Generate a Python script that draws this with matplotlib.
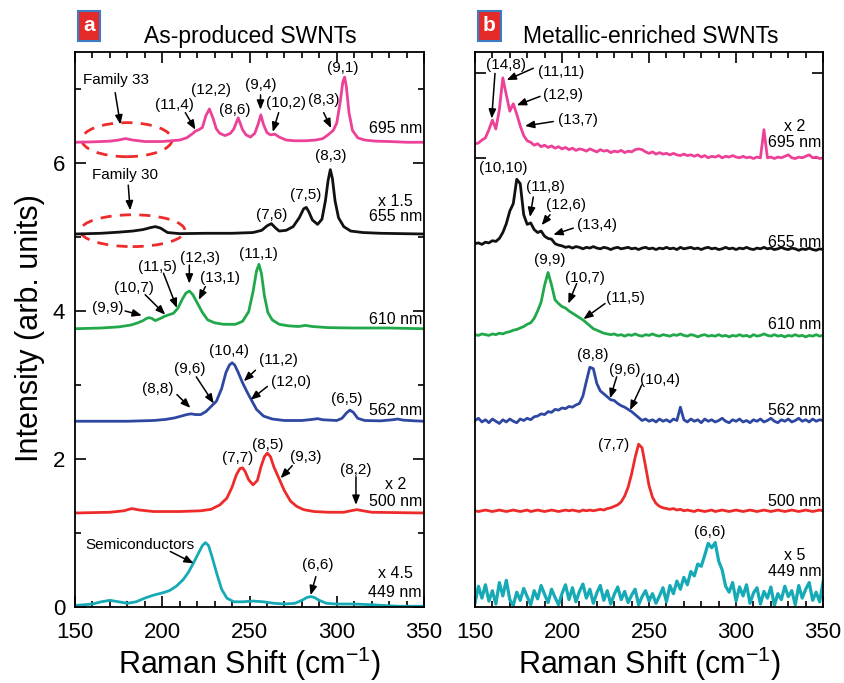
import numpy as np
import matplotlib
matplotlib.use('Agg')
import matplotlib.pyplot as plt
from matplotlib.patches import Ellipse
from matplotlib.ticker import MultipleLocator

plt.rcParams['font.family'] = ['Liberation Sans', 'DejaVu Sans']
plt.rcParams['mathtext.default'] = 'regular'

# ---- panel a: as-produced SWNTs (intensity above each baseline) ----
a_offsets = [6.28, 5.04, 3.76, 2.51, 1.27, 0.0]
a_lasers = ['695', '655', '610', '562', '500', '449']

a695_x = [150, 160, 170, 175, 179, 183, 190, 200, 210, 214,
          217, 219, 221, 223, 225, 227, 229, 231, 233, 236,
          239, 241, 243.5, 246, 248, 250.5, 253, 255, 256.5, 258,
          260, 262, 264.5, 267, 271, 276, 282, 288, 292, 295,
          298, 300, 302, 303.5, 304.5, 305.5, 307, 309, 312, 316,
          322, 330, 340, 350]
a695_y = [0, 0.005, 0.015, 0.03, 0.05, 0.03, 0.01, 0.01, 0.03, 0.06,
          0.11, 0.15, 0.17, 0.20, 0.36, 0.45, 0.33, 0.18, 0.12, 0.09,
          0.12, 0.18, 0.33, 0.17, 0.10, 0.07, 0.12, 0.25, 0.37, 0.24,
          0.13, 0.10, 0.11, 0.07, 0.03, 0.02, 0.02, 0.03, 0.05, 0.10,
          0.16, 0.26, 0.55, 0.82, 0.88, 0.75, 0.40, 0.16, 0.06, 0.03,
          0.015, 0.01, 0.0, 0.0]

a655_x = [150, 165, 175, 183, 189, 193, 196, 199, 203, 210,
          225, 240, 252, 257, 260, 262.5, 265, 267, 271, 275,
          278.5, 281, 282.5, 284, 286, 289, 291.5, 293.5, 295, 296.3,
          297.5, 299, 301, 304, 308, 315, 325, 350]
a655_y = [0.0, 0.01, 0.025, 0.04, 0.06, 0.085, 0.10, 0.08, 0.02, 0.005,
          0.01, 0.01, 0.02, 0.05, 0.11, 0.14, 0.08, 0.04, 0.05, 0.10,
          0.22, 0.34, 0.36, 0.30, 0.19, 0.13, 0.20, 0.45, 0.72, 0.87,
          0.75, 0.45, 0.22, 0.10, 0.04, 0.02, 0.01, 0.0]

a610_x = [150, 165, 175, 182, 186, 189, 191, 192.5, 194, 196,
          199, 201.5, 204, 206.5, 209, 211.5, 213.5, 215.5, 217.5, 220,
          223, 226, 230, 235, 242, 246, 249.5, 252, 254, 255.4,
          256.8, 258.5, 260.5, 263, 267, 272, 278, 282, 286, 295,
          310, 330, 350]
a610_y = [0.0, 0.01, 0.025, 0.05, 0.08, 0.11, 0.14, 0.15, 0.14, 0.11,
          0.14, 0.17, 0.19, 0.21, 0.28, 0.40, 0.48, 0.51, 0.46, 0.35,
          0.22, 0.12, 0.08, 0.06, 0.06, 0.10, 0.23, 0.50, 0.78, 0.87,
          0.75, 0.45, 0.22, 0.12, 0.06, 0.04, 0.03, 0.045, 0.03, 0.015,
          0.01, 0.01, 0.0]

a562_x = [150, 180, 195, 202, 207, 211, 214, 216.5, 219, 222,
          225, 228, 231, 234, 236.5, 238.5, 240, 241.5, 243.5, 246,
          248.5, 251, 254, 258, 263, 270, 280, 286, 289, 292,
          300, 303, 305.5, 307.5, 309.5, 312, 316, 325, 332, 335,
          338, 345, 350]
a562_y = [0.0, 0.0, 0.01, 0.025, 0.045, 0.07, 0.09, 0.10, 0.09, 0.09,
          0.13, 0.20, 0.27, 0.44, 0.66, 0.76, 0.79, 0.76, 0.66, 0.52,
          0.40, 0.29, 0.16, 0.07, 0.03, 0.01, 0.01, 0.025, 0.035, 0.02,
          0.01, 0.04, 0.11, 0.15, 0.12, 0.04, 0.01, 0.005, 0.02, 0.03,
          0.015, 0.005, 0.0]

a500_x = [150, 170, 178, 182.5, 187, 195, 210, 222, 228, 233,
          237, 240, 242.5, 244.5, 246, 247.5, 249.5, 252, 254.5, 256.5,
          258.5, 260.2, 262, 264, 267, 270, 273.5, 277, 281, 287,
          295, 304, 308, 311.5, 315, 320, 335, 350]
a500_y = [0.0, 0.01, 0.03, 0.06, 0.04, 0.02, 0.02, 0.03, 0.05, 0.11,
          0.20, 0.35, 0.52, 0.60, 0.61, 0.56, 0.45, 0.38, 0.44, 0.62,
          0.76, 0.81, 0.76, 0.62, 0.46, 0.30, 0.16, 0.09, 0.045, 0.02,
          0.01, 0.01, 0.03, 0.045, 0.03, 0.01, 0.005, 0.0]

a449_x = [150, 160, 165, 170, 175, 180, 185, 190, 195, 200,
          204, 208, 212, 215, 218, 221, 223, 224.7, 226.5, 228.5,
          231, 234, 237, 241, 246, 252, 258, 264, 270, 276,
          280, 283, 285, 287, 290, 294, 300, 310, 320, 335, 350]
a449_y = [0.02, 0.04, 0.07, 0.09, 0.07, 0.05, 0.07, 0.12, 0.16, 0.19,
          0.22, 0.28, 0.37, 0.47, 0.60, 0.74, 0.83, 0.87, 0.83, 0.68,
          0.47, 0.24, 0.12, 0.07, 0.07, 0.08, 0.07, 0.05, 0.04, 0.05,
          0.09, 0.13, 0.14, 0.13, 0.09, 0.05, 0.04, 0.04, 0.03, 0.01, 0.01]

a_x = [a695_x, a655_x, a610_x, a562_x, a500_x, a449_x]
a_y = [a695_y, a655_y, a610_y, a562_y, a500_y, a449_y]

# ---- panel b: metallic-enriched SWNTs, sampled every 2 cm-1 ----
b_x = np.arange(150, 351, 2)
b695 = [6.26, 6.27, 6.31, 6.34, 6.45, 6.58, 6.46, 6.72, 7.15, 6.92,
        6.70, 6.80, 6.66, 6.50, 6.37, 6.30, 6.28, 6.24, 6.26, 6.22,
        6.24, 6.21, 6.23, 6.20, 6.22, 6.19, 6.21, 6.18, 6.20, 6.17,
        6.19, 6.18, 6.16, 6.19, 6.17, 6.15, 6.18, 6.16, 6.17, 6.14,
        6.16, 6.15, 6.17, 6.14, 6.16, 6.15, 6.18, 6.19, 6.18, 6.15,
        6.13, 6.15, 6.12, 6.14, 6.12, 6.13, 6.11, 6.13, 6.11, 6.10,
        6.12, 6.10, 6.11, 6.09, 6.11, 6.08, 6.10, 6.07, 6.09, 6.08,
        6.10, 6.07, 6.09, 6.08, 6.10, 6.08, 6.07, 6.09, 6.07, 6.08,
        6.06, 6.08, 6.07, 6.45, 6.07, 6.08, 6.06, 6.08, 6.07, 6.09,
        6.11, 6.07, 6.06, 6.08, 6.07, 6.09, 6.11, 6.07, 6.08, 6.06,
        6.07]
b655 = [4.91, 4.92, 4.90, 4.93, 4.92, 4.95, 4.94, 4.98, 5.06, 5.18,
        5.35, 5.45, 5.78, 5.72, 5.30, 5.17, 5.19, 5.10, 5.06, 5.08,
        5.01, 4.98, 4.97, 4.91, 4.89, 4.88, 4.86, 4.87, 4.85, 4.87,
        4.86, 4.84, 4.86, 4.85, 4.87, 4.85, 4.84, 4.86, 4.85, 4.83,
        4.85, 4.86, 4.84, 4.85, 4.86, 4.84, 4.85, 4.83, 4.85, 4.86,
        4.84, 4.85, 4.83, 4.85, 4.84, 4.86, 4.84, 4.85, 4.83, 4.86,
        4.84, 4.85, 4.86, 4.84, 4.85, 4.83, 4.85, 4.86, 4.84, 4.85,
        4.83, 4.84, 4.86, 4.84, 4.85, 4.83, 4.85, 4.84, 4.86, 4.84,
        4.83, 4.85, 4.84, 4.86, 4.84, 4.85, 4.83, 4.84, 4.86, 4.84,
        4.83, 4.85, 4.84, 4.82, 4.84, 4.83, 4.85, 4.83, 4.82, 4.84,
        4.83]
b610 = [3.68, 3.67, 3.69, 3.68, 3.67, 3.69, 3.68, 3.70, 3.69, 3.71,
        3.72, 3.74, 3.75, 3.77, 3.79, 3.82, 3.84, 3.90, 4.00, 4.12,
        4.35, 4.52, 4.35, 4.15, 4.10, 4.06, 4.04, 4.00, 3.97, 3.94,
        3.91, 3.88, 3.84, 3.80, 3.76, 3.74, 3.72, 3.70, 3.69, 3.68,
        3.69, 3.67, 3.68, 3.66, 3.68, 3.67, 3.69, 3.67, 3.66, 3.68,
        3.67, 3.69, 3.67, 3.66, 3.68, 3.67, 3.66, 3.68, 3.67, 3.69,
        3.67, 3.66, 3.68, 3.67, 3.65, 3.67, 3.68, 3.66, 3.67, 3.66,
        3.68, 3.66, 3.67, 3.65, 3.67, 3.66, 3.68, 3.66, 3.67, 3.65,
        3.68, 3.66, 3.67, 3.69, 3.67, 3.66, 3.68, 3.66, 3.67, 3.65,
        3.67, 3.66, 3.68, 3.66, 3.67, 3.65, 3.67, 3.66, 3.68, 3.66,
        3.67]
b562 = [2.52, 2.55, 2.50, 2.53, 2.49, 2.54, 2.51, 2.48, 2.53, 2.50,
        2.54, 2.51, 2.49, 2.54, 2.52, 2.55, 2.53, 2.57, 2.58, 2.61,
        2.60, 2.64, 2.63, 2.67, 2.66, 2.69, 2.68, 2.71, 2.70, 2.73,
        2.75, 2.85, 3.05, 3.24, 3.22, 3.02, 2.92, 2.88, 2.84, 2.80,
        2.79, 2.75, 2.72, 2.70, 2.67, 2.64, 2.60, 2.56, 2.52, 2.54,
        2.51, 2.53, 2.50, 2.54, 2.51, 2.53, 2.50, 2.54, 2.52, 2.70,
        2.53, 2.50, 2.54, 2.51, 2.53, 2.49, 2.54, 2.51, 2.53, 2.50,
        2.52, 2.55, 2.51, 2.49, 2.53, 2.51, 2.54, 2.50, 2.52, 2.49,
        2.53, 2.51, 2.54, 2.50, 2.52, 2.55, 2.51, 2.49, 2.53, 2.51,
        2.54, 2.50, 2.52, 2.55, 2.51, 2.53, 2.50, 2.54, 2.51, 2.53,
        2.52]
b500 = [1.30, 1.29, 1.30, 1.31, 1.30, 1.29, 1.30, 1.31, 1.30, 1.29,
        1.30, 1.31, 1.30, 1.29, 1.30, 1.31, 1.29, 1.30, 1.31, 1.30,
        1.29, 1.30, 1.31, 1.30, 1.29, 1.30, 1.31, 1.30, 1.31, 1.30,
        1.29, 1.31, 1.30, 1.31, 1.30, 1.31, 1.32, 1.31, 1.33, 1.34,
        1.36, 1.38, 1.42, 1.50, 1.62, 1.80, 2.02, 2.20, 2.15, 1.90,
        1.64, 1.48, 1.40, 1.36, 1.34, 1.33, 1.32, 1.33, 1.31, 1.32,
        1.30, 1.31, 1.30, 1.29, 1.31, 1.30, 1.29, 1.30, 1.31, 1.29,
        1.30, 1.31, 1.30, 1.29, 1.30, 1.31, 1.30, 1.29, 1.30, 1.31,
        1.30, 1.29, 1.30, 1.31, 1.30, 1.29, 1.30, 1.31, 1.30, 1.29,
        1.30, 1.31, 1.30, 1.29, 1.30, 1.31, 1.30, 1.29, 1.30, 1.31,
        1.30]
b449 = [0.05, 0.28, 0.12, 0.30, 0.08, 0.22, 0.04, 0.33, 0.15, 0.36,
        0.10, 0.02, 0.20, 0.09, 0.25, 0.14, 0.03, 0.22, 0.11, 0.29,
        0.17, 0.06, 0.24, 0.13, 0.03, 0.18, 0.30, 0.10, 0.26, 0.07,
        0.21, 0.31, 0.12, 0.24, 0.05, 0.19, 0.29, 0.09, 0.22, 0.04,
        0.17, 0.27, 0.10, 0.21, 0.06, 0.16, 0.24, 0.03, 0.14, 0.22,
        0.08, 0.18, 0.05, 0.15, 0.26, 0.07, 0.29, 0.18, 0.35, 0.24,
        0.40, 0.30, 0.48, 0.42, 0.58, 0.55, 0.70, 0.86, 0.80, 0.87,
        0.62, 0.50, 0.28, 0.20, 0.33, 0.08, 0.27, 0.15, 0.30, 0.05,
        0.19, 0.26, 0.04, 0.21, 0.12, 0.27, 0.02, 0.18, 0.10, 0.28,
        0.14, 0.22, 0.03, 0.29, 0.12, 0.24, 0.33, 0.09, 0.20, 0.07,
        0.34]
b_y = [b695, b655, b610, b562, b500, b449]

colors = ['#EC4196', '#111111', '#21A84A', '#2E48A2', '#EE2B2B', '#15AAB5']

# peak assignments: label, x, y (label centre)
a_labels = [('Family 33', 173.6, 7.12), ('(11,4)', 207, 6.78), ('(12,2)', 228, 6.99),
            ('(8,6)', 241.6, 6.72), ('(9,4)', 256.3, 7.05), ('(10,2)', 271, 6.81),
            ('(8,3)', 292.5, 6.85), ('(9,1)', 303.4, 7.28),
            ('Family 30', 178.7, 5.84), ('(7,6)', 262.6, 5.30), ('(7,5)', 282.2, 5.57),
            ('(8,3)', 296.6, 6.09),
            ('(9,9)', 169, 4.04), ('(10,7)', 184, 4.31), ('(11,5)', 197, 4.59),
            ('(12,3)', 221.8, 4.71), ('(13,1)', 232.8, 4.44), ('(11,1)', 254.9, 4.77),
            ('(8,8)', 197.4, 2.95), ('(9,6)', 215.5, 3.22), ('(10,4)', 238.5, 3.46),
            ('(11,2)', 266.7, 3.34), ('(12,0)', 273.6, 3.04), ('(6,5)', 305.6, 2.81),
            ('(7,7)', 243.4, 2.01), ('(8,5)', 260.6, 2.19), ('(9,3)', 282.2, 2.03),
            ('(8,2)', 311, 1.85),
            ('Semiconductors', 187.4, 0.84), ('(6,6)', 288.9, 0.57)]
a_arrows = [(173.0, 6.95, 176.0, 6.52), (213.2, 6.68, 219, 6.45), (256.3, 6.92, 256.3, 6.72),
            (266.7, 6.68, 263.3, 6.42), (292.5, 6.68, 296.8, 6.47), (180.5, 5.70, 181.6, 5.36),
            (178.7, 4.00, 188.3, 3.94), (190.2, 4.22, 201.7, 3.95), (200.7, 4.51, 208.4, 4.04),
            (215.5, 4.62, 215.5, 4.37), (224.7, 4.33, 220.9, 4.15),
            (208.4, 2.87, 216.1, 2.69), (219.5, 3.11, 229.5, 2.75), (253.4, 3.20, 246.7, 3.05),
            (260.2, 2.98, 250.6, 2.80), (274.5, 1.91, 267.8, 1.74), (311, 1.76, 311, 1.38),
            (204.6, 0.75, 218, 0.59), (288, 0.41, 285, 0.16)]
a_side = [('695 nm', 6.47), ('x 1.5', 5.48), ('655 nm', 5.27), ('610 nm', 3.89),
          ('562 nm', 2.66), ('x 2', 1.65), ('500 nm', 1.42), ('x 4.5', 0.45), ('449 nm', 0.19)]

b_labels = [('(14,8)', 167.7, 7.32), ('(11,11)', 199.3, 7.23), ('(12,9)', 200.3, 6.92),
            ('(13,7)', 208.9, 6.58), ('(10,10)', 166.3, 5.93), ('(11,8)', 190.2, 5.68),
            ('(12,6)', 202.2, 5.43), ('(13,4)', 220, 5.16), ('(9,9)', 193.1, 4.69),
            ('(10,7)', 213.2, 4.44), ('(11,5)', 236.2, 4.17), ('(8,8)', 217.5, 3.41),
            ('(9,6)', 236.2, 3.20), ('(10,4)', 256.3, 3.07), ('(7,7)', 229.9, 2.19),
            ('(6,6)', 285, 1.02)]
b_arrows = [(161.5, 7.21, 159.6, 6.60), (183.5, 7.28, 168.2, 7.12), (187.4, 6.90, 174, 6.78),
            (195, 6.56, 178.7, 6.50), (183.5, 5.54, 181.6, 5.27), (193.1, 5.30, 188.3, 5.16),
            (206.5, 5.12, 195, 5.03), (208.4, 4.37, 203.6, 4.10), (224.7, 4.10, 212.3, 3.89),
            (231.4, 3.11, 227.6, 2.82), (245.8, 3.00, 239.1, 2.66)]
b_side = [('x 2', 6.49), ('695 nm', 6.27), ('655 nm', 4.92), ('610 nm', 3.82),
          ('562 nm', 2.65), ('500 nm', 1.42), ('x 5', 0.70), ('449 nm', 0.48)]

fig = plt.figure(figsize=(8.45, 6.83), dpi=100)
ax_a = fig.add_axes([0.0888, 0.1113, 0.413, 0.8126])
ax_b = fig.add_axes([0.5621, 0.1113, 0.412, 0.8126])

for i in range(6):
    ax_a.plot(a_x[i], np.array(a_y[i]) + a_offsets[i], color=colors[i], lw=2.0)
    ax_b.plot(b_x, b_y[i], color=colors[i], lw=2.0 if i < 5 else 2.3)

# dashed circles round the family bands
ax_a.add_patch(Ellipse((179.7, 6.315), 51.8, 0.46, fill=False, color='#EE2B2B', lw=2,
                       ls=(0, (4, 3))))
ax_a.add_patch(Ellipse((183, 5.085), 60, 0.43, fill=False, color='#EE2B2B', lw=2,
                       ls=(0, (4, 3))))

arrow_style = dict(arrowstyle='-|>,head_length=0.55,head_width=0.22', color='k', lw=1.1,
                   shrinkA=0, shrinkB=0)
for ax, labels, arrows, side in [(ax_a, a_labels, a_arrows, a_side),
                                 (ax_b, b_labels, b_arrows, b_side)]:
    for txt, x, y in labels:
        ax.text(x, y, txt, fontsize=11, ha='center', va='center')
    for x0, y0, x1, y1 in arrows:
        ax.annotate('', xy=(x1, y1), xytext=(x0, y0), arrowprops=arrow_style)
    for txt, y in side:
        ax.text(333.5, y, txt, fontsize=11.5, ha='center', va='center')

for ax in (ax_a, ax_b):
    ax.set_xlim(150, 350)
    ax.set_ylim(0, 7.5)
    ax.xaxis.set_major_locator(MultipleLocator(50))
    ax.xaxis.set_minor_locator(MultipleLocator(10))
    ax.tick_params(which='both', direction='in', top=True, right=True, width=1.2,
                   labelsize=16)
    ax.tick_params(axis='x', pad=11)
    ax.tick_params(axis='y', pad=7)
    ax.tick_params(which='major', length=8)
    ax.tick_params(which='minor', length=4.5)
    for s in ax.spines.values():
        s.set_linewidth(1.3)
    ax.set_xlabel('Raman Shift (cm$^{-1}$)', fontsize=22, labelpad=1)

ax_a.yaxis.set_major_locator(MultipleLocator(2))
ax_a.yaxis.set_minor_locator(MultipleLocator(1))
ax_b.set_yticks([6.07, 7.22])
ax_b.set_yticklabels([])

fig.text(0.036, 0.52, 'Intensity (arb. units)', rotation=90, fontsize=22,
         ha='center', va='center')
fig.text(0.296, 0.947, 'As-produced SWNTs', fontsize=16.5, ha='center', va='center')
fig.text(0.77, 0.947, 'Metallic-enriched SWNTs', fontsize=16.5, ha='center', va='center')
for x, letter in [(0.105, 'a'), (0.579, 'b')]:
    fig.text(x, 0.962, letter, color='white', fontsize=15, weight='bold', ha='center',
             va='center', bbox=dict(boxstyle='square,pad=0.25', fc='#E52A2A',
                                    ec='#3C7CC4', lw=1.5))

fig.savefig('out.png', dpi=100)
